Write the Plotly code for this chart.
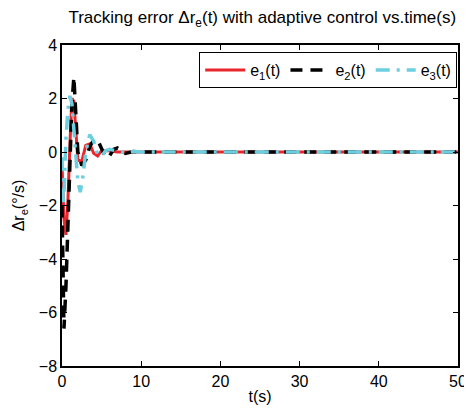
import plotly.graph_objects as go

# time samples and series values
t1 = [0, 0.25, 0.5, 0.75, 1.0, 1.25, 1.5, 1.75, 2.0, 2.5, 3.0, 3.5, 4.0, 4.5, 5, 6, 7, 8, 10, 50]
e1 = [-0.5, -2.5, -3.1, -1.8, 0.3, 2.0, 1.9, 0.6, -0.3, -0.35, 0.25, 0.3, -0.05, -0.15, 0.05, 0.05, 0, 0, 0, 0]

t2 = [0, 0.25, 0.5, 0.75, 1.0, 1.25, 1.5, 1.75, 2.0, 2.5, 3.0, 3.5, 4.0, 4.5, 5.0, 5.5, 6.0, 6.5, 7.0, 7.5, 8, 9, 10, 12, 50]
e2 = [-2.0, -6.6, -5.0, -2.8, -0.5, 1.8, 2.8, 1.6, 0.0, -0.5, -0.3, 0.2, 0.45, 0.45, 0.1, -0.2, -0.15, 0.1, 0.15, 0.05, -0.05, 0.02, 0, 0, 0]

t3 = [0, 0.15, 0.3, 0.5, 0.75, 1.0, 1.25, 1.5, 1.75, 2.0, 2.3, 2.6, 3.0, 3.5, 4.0, 4.5, 5, 5.5, 6, 7, 8, 9, 10, 12, 50]
e3 = [-0.2, -2.0, -1.2, 0.5, 1.6, 2.1, 1.8, 0.8, -0.3, -1.1, -1.5, -1.0, 0.0, 0.65, 0.4, -0.1, -0.15, 0.05, 0.1, 0.05, -0.03, 0.02, 0, 0, 0]

x_ticks = [0, 10, 20, 30, 40, 50]
y_ticks = [-8, -6, -4, -2, 0, 2, 4]

FONT = "Liberation Sans, Arial, sans-serif"

fig = go.Figure()
fig.add_trace(go.Scatter(x=t1, y=e1, mode="lines", name="e<sub>1</sub>(t)",
                         line=dict(color="#e8262b", width=3)))
fig.add_trace(go.Scatter(x=t2, y=e2, mode="lines", name="e<sub>2</sub>(t)",
                         line=dict(color="black", width=3.5, dash="12px,8px")))
fig.add_trace(go.Scatter(x=t3, y=e3, mode="lines", name="e<sub>3</sub>(t)",
                         line=dict(color="#6ccfe0", width=3.5, dash="14px,7px,3px,7px")))

axis_common = dict(showgrid=False, zeroline=False, showline=True, linecolor="black",
                   linewidth=1.5, mirror="allticks", ticks="inside", ticklen=5,
                   tickcolor="black", automargin=False,
                   tickfont=dict(size=16, color="black", family=FONT))

fig.update_xaxes(range=[0, 50], tickvals=x_ticks,
                 title=dict(text="t(s)", font=dict(size=16, family=FONT, color="black"), standoff=2),
                 **axis_common)
fig.update_yaxes(range=[-8, 4], tickvals=y_ticks,
                 title=dict(text="Δr<sub>e</sub>(°/s)", font=dict(size=16, family=FONT, color="black"), standoff=10),
                 **axis_common)

# page body has an 8px default margin, so the figure is sized to fit inside the window
fig.update_layout(
    width=464, height=408,
    margin=dict(l=54, r=14, t=37, b=50),
    plot_bgcolor="white", paper_bgcolor="white",
    font=dict(family=FONT, color="black"),
    title=dict(text="Tracking error Δr<sub>e</sub>(t) with adaptive control vs.time(s)",
               x=0.548, xanchor="center", y=0.992, yanchor="top",
               font=dict(size=17, family=FONT, color="black")),
    legend=dict(orientation="h", x=0.998, xanchor="right", y=0.978, yanchor="top",
                bordercolor="black", borderwidth=1, bgcolor="white",
                font=dict(size=16, family=FONT, color="black"),
                itemwidth=40, tracegroupgap=0),
    showlegend=True,
)

fig.write_html("out.html")
